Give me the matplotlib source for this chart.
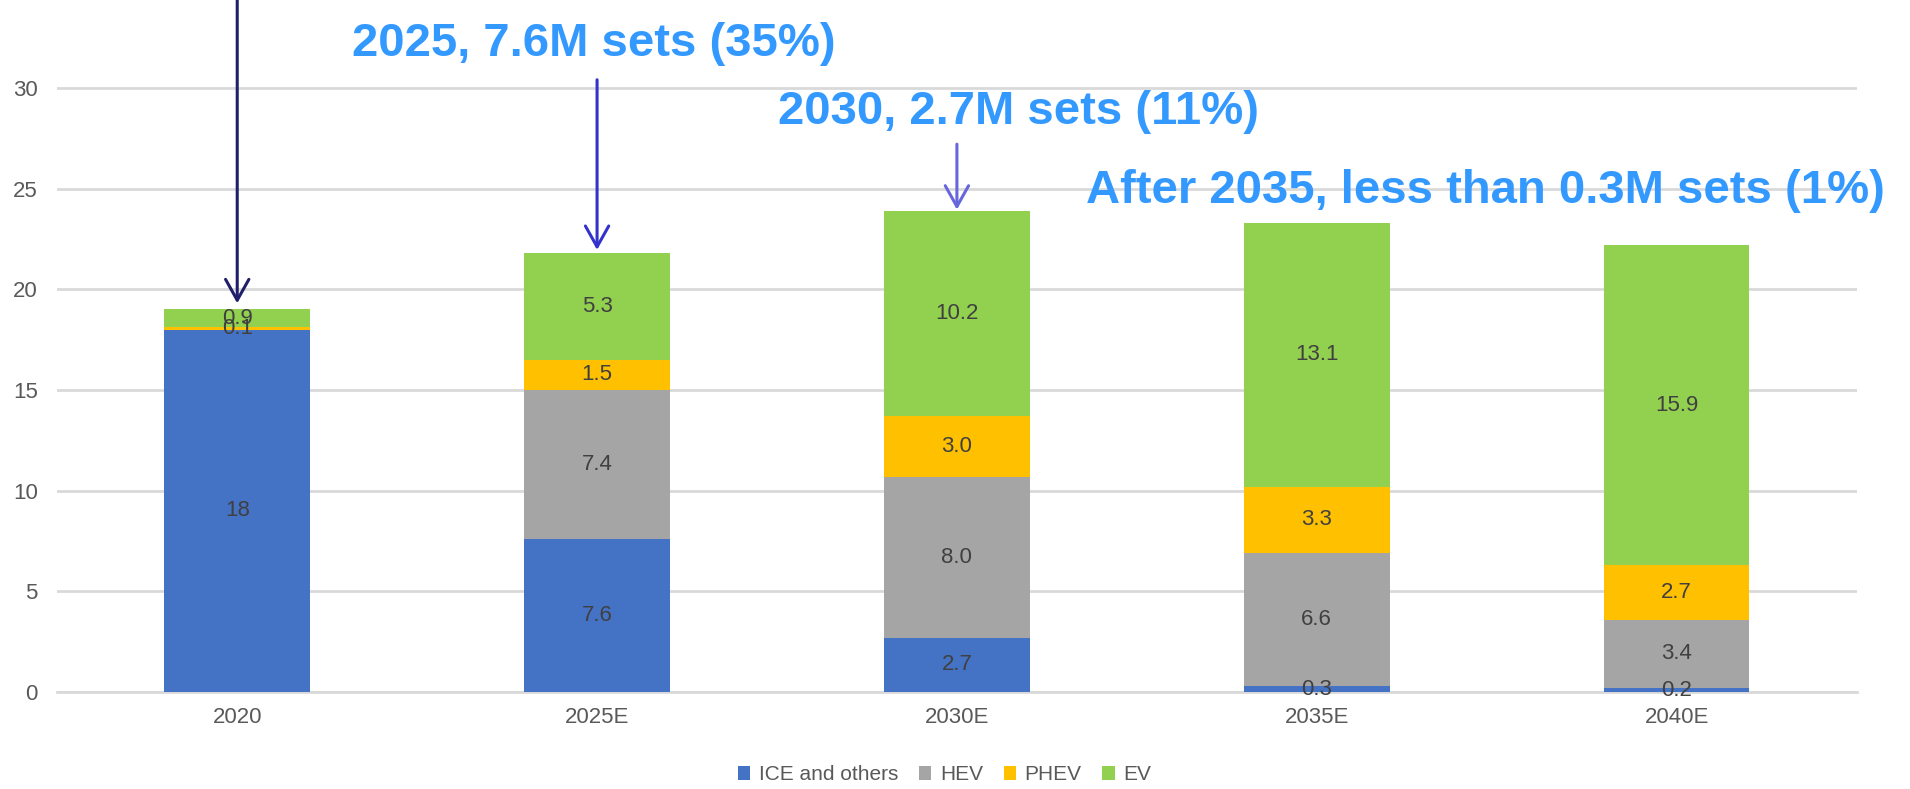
import matplotlib
matplotlib.use("Agg")
import matplotlib.pyplot as plt
import numpy as np

categories = ["2020", "2025E", "2030E", "2035E", "2040E"]
ice = [18.0, 7.6, 2.7, 0.3, 0.2]
hev = [0.0, 7.4, 8.0, 6.6, 3.4]
phev = [0.1, 1.5, 3.0, 3.3, 2.7]
ev = [0.9, 5.3, 10.2, 13.1, 15.9]
ice_labels = ["18", "7.6", "2.7", "0.3", "0.2"]
hev_labels = ["", "7.4", "8.0", "6.6", "3.4"]
phev_labels = ["0.1", "1.5", "3.0", "3.3", "2.7"]
ev_labels = ["0.9", "5.3", "10.2", "13.1", "15.9"]
series_names = ["ICE and others", "HEV", "PHEV", "EV"]
colors = ["#4472C4", "#A5A5A5", "#FFC000", "#92D050"]
yticks = [0, 5, 10, 15, 20, 25, 30]

notes = ["2025, 7.6M sets (35%)", "2030, 2.7M sets (11%)",
         "After 2035, less than 0.3M sets (1%)"]

NARROW = ["Liberation Sans Narrow", "Liberation Sans", "DejaVu Sans"]

fig = plt.figure(figsize=(19.10, 7.89), dpi=100)
ax = fig.add_axes([0.0300, 0.1229, 0.9420, 0.8771])

x = np.arange(len(categories))
w = 0.405
series = [ice, hev, phev, ev]
labels = [ice_labels, hev_labels, phev_labels, ev_labels]
bottom = np.zeros(len(categories))
for vals, labs, c, name in zip(series, labels, colors, series_names):
    vals = np.array(vals)
    ax.bar(x, vals, w, bottom=bottom, color=c, label=name, zorder=3)
    for xi, b, v, lab in zip(x, bottom, vals, labs):
        if lab:
            ax.text(xi, b + v / 2, lab, ha="center", va="center",
                    fontsize=16, color="#404040", family=NARROW, zorder=4)
    bottom = bottom + vals
totals = bottom

ax.set_xlim(-0.5, 4.5)
ax.set_ylim(0, 34.36)
ax.set_yticks(yticks)
ax.set_xticks(x)
ax.set_xticklabels(categories)
ax.tick_params(axis="both", length=0, labelsize=16, labelcolor="#595959")
ax.tick_params(axis="x", pad=11)
ax.tick_params(axis="y", pad=14)
for lab in ax.get_xticklabels() + ax.get_yticklabels():
    lab.set_family(NARROW)
ax.grid(axis="y", color="#D9D9D9", linewidth=2.0, zorder=0)
for s in ["top", "right", "left"]:
    ax.spines[s].set_visible(False)
ax.spines["bottom"].set_color("#D9D9D9")
ax.spines["bottom"].set_linewidth(2.0)

# arrows
def arrow(xc, y0, y1, col):
    ax.annotate("", xy=(xc, y1), xytext=(xc, y0),
                arrowprops=dict(arrowstyle="->,head_length=0.75,head_width=0.42",
                                color=col, lw=2.2, mutation_scale=20,
                                shrinkA=0, shrinkB=0), zorder=5,
                annotation_clip=False)

arrow(x[0], 34.36, totals[0] + 0.3, "#1F1F6B")
arrow(x[1], 30.4, totals[1] + 0.15, "#3333CC")
arrow(x[2], 27.2, totals[2] + 0.05, "#6666DD")

note_kw = dict(ha="center", va="center", fontsize=34, color="#3399FF",
               fontweight="bold", family=NARROW, zorder=6)
ax.text(0.99, 32.2, notes[0], **note_kw)
ax.text(2.17, 28.8, notes[1], **note_kw)
ax.text(3.47, 24.9, notes[2], **note_kw)

leg = fig.legend(loc="center", bbox_to_anchor=(0.4945, 0.018), ncol=4, frameon=False,
                 handlelength=0.6, handleheight=0.6,
                 handletextpad=0.4, columnspacing=1.0, prop={"family": NARROW, "size": 15})
for t in leg.get_texts():
    t.set_color("#595959")

fig.savefig("out.png", dpi=100)
